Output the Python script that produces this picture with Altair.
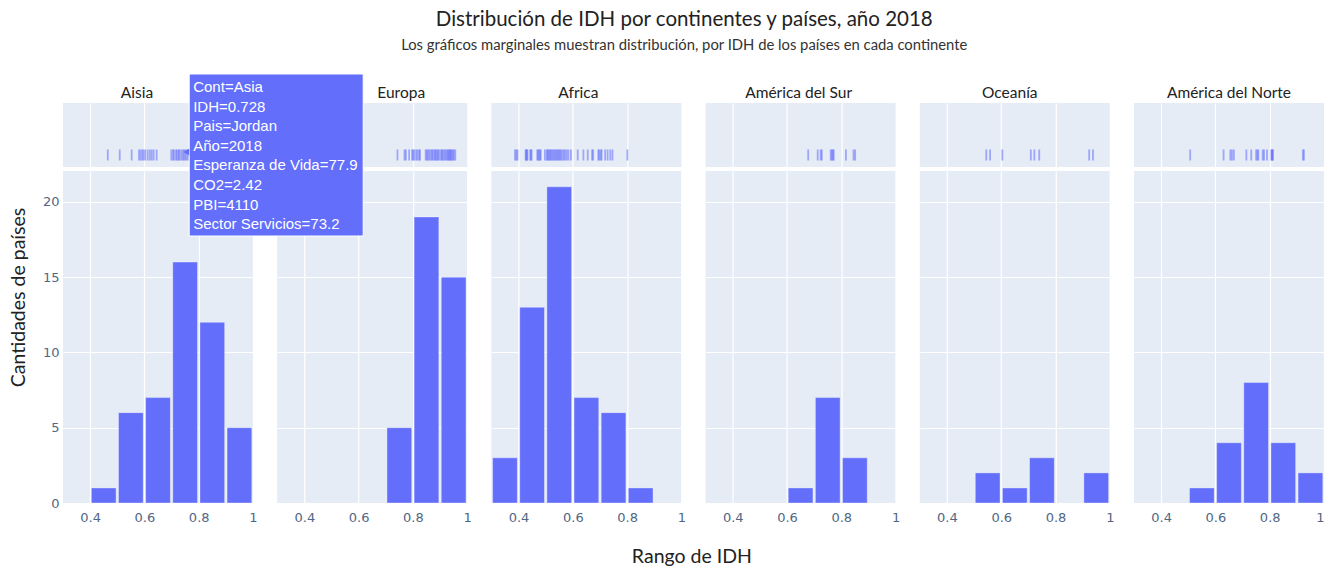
import altair as alt
import pandas as pd

BAR = "#636efa"
BG = "#E5ECF6"
TXT = "#222222"
TICK = "#506784"

continents = ["Aisia", "Europa", "Africa", "América del Sur", "Oceanía", "América del Norte"]
bin_starts = [0.3, 0.4, 0.5, 0.6, 0.7, 0.8, 0.9]
bin_ends = [0.4, 0.5, 0.6, 0.7, 0.8, 0.9, 1.0]

asia_counts = [0, 1, 6, 7, 16, 12, 5]
europa_counts = [0, 0, 0, 0, 5, 19, 15]
africa_counts = [3, 13, 21, 7, 6, 1, 0]
sur_counts = [0, 0, 0, 1, 7, 3, 0]
oceania_counts = [0, 0, 2, 1, 3, 0, 2]
norte_counts = [0, 0, 1, 4, 8, 4, 2]

asia_idh = [0.465,
            0.509, 0.553, 0.580, 0.586, 0.592, 0.597,
            0.603, 0.612, 0.620, 0.627, 0.634, 0.645, 0.699,
            0.705, 0.709, 0.716, 0.720, 0.726, 0.728, 0.735, 0.741,
            0.745, 0.750, 0.755, 0.760, 0.767, 0.779, 0.782, 0.796,
            0.806, 0.810, 0.813, 0.820, 0.830, 0.845, 0.846, 0.852,
            0.857, 0.866, 0.879, 0.889,
            0.906, 0.915, 0.919, 0.933, 0.935]
europa_idh = [0.743, 0.769, 0.774, 0.786, 0.797,
              0.801, 0.805, 0.812, 0.817, 0.823, 0.826, 0.847, 0.851, 0.855,
              0.860, 0.865, 0.870, 0.873, 0.879, 0.882, 0.886, 0.890, 0.893, 0.898,
              0.904, 0.907, 0.911, 0.916, 0.920, 0.924, 0.928, 0.931, 0.934,
              0.937, 0.940, 0.943, 0.947, 0.951, 0.956]
africa_idh = [0.387, 0.392, 0.396,
              0.426, 0.428, 0.431, 0.433, 0.443, 0.446, 0.448, 0.469, 0.472,
              0.476, 0.480, 0.481, 0.497,
              0.504, 0.507, 0.510, 0.514, 0.517, 0.521, 0.525, 0.529, 0.533,
              0.537, 0.541, 0.545, 0.549, 0.553, 0.557, 0.562, 0.567, 0.572,
              0.578, 0.584, 0.593,
              0.618, 0.639, 0.655, 0.671, 0.675, 0.694, 0.697,
              0.703, 0.706, 0.719, 0.728, 0.738, 0.746,
              0.801]
sur_idh = [0.678, 0.713, 0.724, 0.728, 0.761, 0.765, 0.769, 0.772, 0.817, 0.845, 0.851]
oceania_idh = [0.545, 0.559, 0.604, 0.709, 0.722, 0.740, 0.924, 0.938]
norte_idh = [0.507, 0.630, 0.655, 0.661, 0.668, 0.714, 0.732, 0.750, 0.755, 0.758,
             0.774, 0.779, 0.790, 0.806, 0.808, 0.810, 0.812, 0.922, 0.926]

tooltip_lines = ["Cont=Asia", "IDH=0.728", "Pais=Jordan", "Año=2018",
                 "Esperanza de Vida=77.9", "CO2=2.42", "PBI=4110", "Sector Servicios=73.2"]

# horizontal nudge of each column title (px), as placed in the reference
title_dx = [-21, 29, -8, -2, -5, 0]

counts_by = dict(zip(continents, [asia_counts, europa_counts, africa_counts,
                                  sur_counts, oceania_counts, norte_counts]))
idh_by = dict(zip(continents, [asia_idh, europa_idh, africa_idh,
                               sur_idh, oceania_idh, norte_idh]))

hist_rows = []
for c in continents:
    for s, e, n in zip(bin_starts, bin_ends, counts_by[c]):
        if n > 0:
            hist_rows.append({"cont": c, "start": s, "end": e, "count": n})
hist_df = pd.DataFrame(hist_rows)
rug_df = pd.DataFrame([{"cont": c, "idh": v} for c in continents for v in idh_by[c]])

xscale = alt.Scale(domain=[0.3, 1.0], nice=False, zero=False)
yscale = alt.Scale(domain=[0, 22.05], nice=False)

rugs = []
hists = []
for name, dx in zip(continents, title_dx):
    rug = alt.Chart(rug_df).transform_filter(alt.datum.cont == name).mark_tick(
        color=BAR, thickness=1.8, size=11, opacity=0.55
    ).encode(
        x=alt.X("idh:Q", scale=xscale,
                axis=alt.Axis(values=[0.4, 0.6, 0.8], labels=False, ticks=False,
                              domain=False, title=None, gridColor="white", gridWidth=1.2)),
        y=alt.value(52),
    ).properties(
        width=190, height=64,
        title=alt.Title(name, font="Lato", fontSize=15.5, fontWeight="normal",
                        color=TXT, anchor="middle", offset=2, dx=dx),
    )
    rugs.append(rug)

    xaxis_kw = dict(values=[0.4, 0.6, 0.8, 1.0], format="~g", ticks=False, domain=False,
                    labelFlush=(name == "América del Norte"), labelPadding=8,
                    labelFont="DejaVu Sans", labelFontSize=13, labelColor=TICK,
                    gridColor="white", gridWidth=1.2)
    if name == "Africa":
        xaxis_kw.update(title="Rango de IDH", titleX=200, titleFont="Lato",
                        titleFontSize=19.5, titleFontWeight="normal", titleColor=TXT,
                        titlePadding=23)
    else:
        xaxis_kw.update(title=None)
    yaxis_kw = dict(values=[0, 5, 10, 15, 20], ticks=False, domain=False,
                    gridColor="white", gridWidth=1.2)
    if name == "Aisia":
        yaxis_kw.update(labelPadding=4, labelFont="DejaVu Sans", labelFontSize=13,
                        labelColor=TICK, title="Cantidades de países", titleY=126,
                        titleFont="Lato", titleFontSize=19.5, titleFontWeight="normal",
                        titleColor=TXT, titlePadding=14)
    else:
        yaxis_kw.update(labels=False, title=None)

    bars = alt.Chart(hist_df).transform_filter(alt.datum.cont == name).mark_bar(
        color=BAR, xOffset=1.2, x2Offset=-1.2, stroke="white",
        strokeOpacity=0.45, strokeWidth=0.8
    ).encode(
        x=alt.X("start:Q", scale=xscale, axis=alt.Axis(**xaxis_kw)),
        x2="end:Q",
        y=alt.Y("count:Q", scale=yscale, axis=alt.Axis(**yaxis_kw)),
        y2=alt.datum(0),
    )
    if name == "Europa":
        tip_df = pd.DataFrame({"t": ["\n".join(tooltip_lines)]})
        box = alt.Chart(tip_df).mark_rect(
            fill=BAR, stroke="white", strokeWidth=1
        ).encode(x=alt.value(-88), x2=alt.value(86), y=alt.value(-97), y2=alt.value(65))
        notch = alt.Chart(tip_df).mark_point(
            shape="triangle-left", filled=True, size=45, color=BAR, opacity=1
        ).encode(x=alt.value(-91), y=alt.value(-19))
        txt = alt.Chart(tip_df).mark_text(
            align="left", baseline="alphabetic", font="Liberation Sans", fontSize=15,
            color="white", lineBreak="\n", lineHeight=19.6
        ).encode(x=alt.value(-84), y=alt.value(-79), text="t:N")
        cell = alt.layer(bars, box, notch, txt).properties(width=190, height=332)
    else:
        cell = bars.properties(width=190, height=332)
    hists.append(cell)

chart = alt.concat(
    *rugs, *hists, columns=6, spacing={"row": 4, "column": 24.2}, bounds="flush",
    title=alt.Title(
        "Distribución de IDH por continentes y países, año 2018",
        subtitle="Los gráficos marginales muestran distribución, por IDH de los países en cada continente",
        font="Lato", fontSize=20.5, fontWeight="normal", color=TXT,
        subtitleFont="Lato", subtitleFontSize=14.8, subtitleColor="#333333",
        subtitlePadding=7, anchor="middle", offset=21, dx=18,
    ),
).properties(
    padding={"top": 2, "left": 0, "right": 0, "bottom": 0}, background="white"
).configure_view(fill=BG, strokeWidth=0)

chart.save("out.html", embed_options={"renderer": "svg", "actions": False})
